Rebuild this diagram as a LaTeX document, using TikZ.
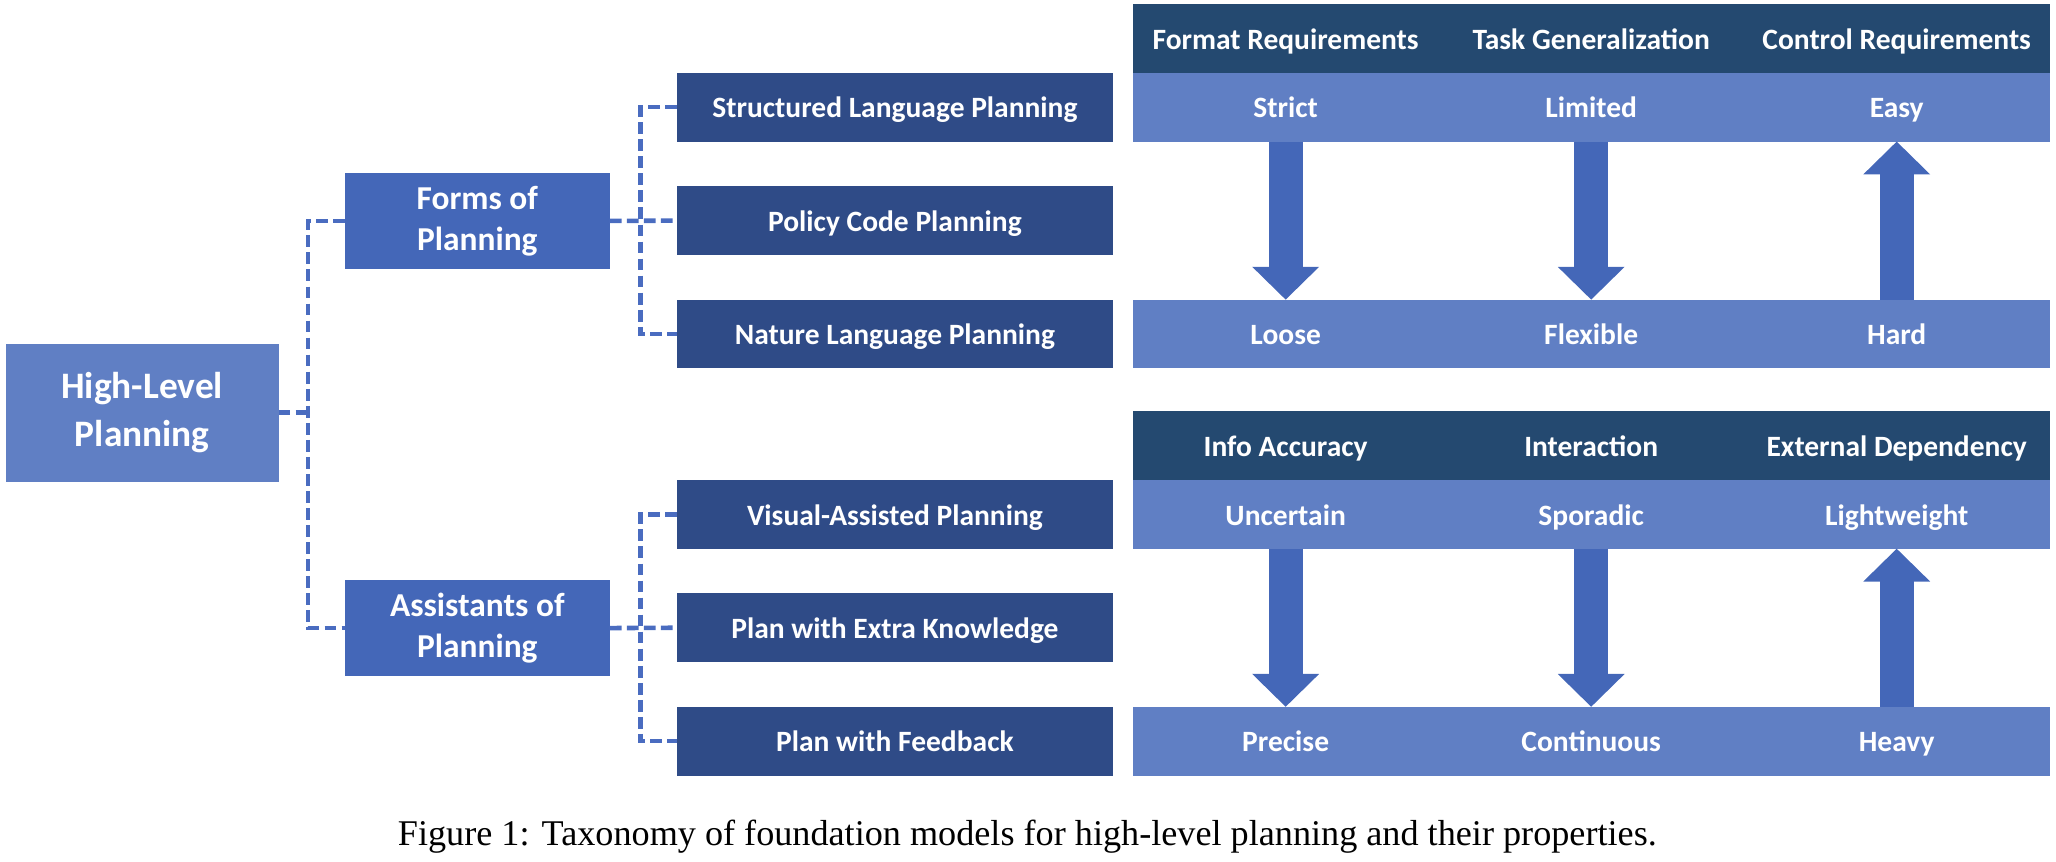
\documentclass[tikz,border=0pt]{standalone}
\usepackage{fontspec}
\setmainfont{Carlito}
\newfontfamily\capfont{Liberation Serif}
\usetikzlibrary{calc}
\definecolor{lightb}{RGB}{96,127,196}
\definecolor{midb}{RGB}{68,103,184}
\definecolor{darkb}{RGB}{47,75,135}
\definecolor{headb}{RGB}{36,73,112}
\definecolor{connc}{RGB}{74,108,192}
\definecolor{arrc}{RGB}{68,103,184}
\newcommand\ArrDown[2]{%
  \draw[arrc, line width=26pt] (#1.south) -- ($(#2.north)+(0,-24)$);
  \fill[arrc] ($(#2.north)+(-25.5,-25)$) -- (#2.north) -- ($(#2.north)+(25.5,-25)$) -- cycle;}
\newcommand\ArrUp[2]{%
  \draw[arrc, line width=26pt] (#1.north) -- ($(#2.south)+(0,24)$);
  \fill[arrc] ($(#2.south)+(-25.5,25)$) -- (#2.south) -- ($(#2.south)+(25.5,25)$) -- cycle;}
\begin{document}
\begin{tikzpicture}[x=1pt,y=-1pt,
  base/.style={inner sep=0pt, outer sep=0pt, text=white, align=center,
    font=\bfseries\fontsize{22.5}{27}\selectfont},
  oneline/.style={text height=17pt, text depth=0.6pt},
  leaf/.style={base, oneline, fill=darkb, minimum width=333pt, minimum height=52.5pt},
  mid/.style={base, fill=midb, minimum width=202pt, minimum height=73.5pt,
    font=\bfseries\fontsize{25.5}{31}\selectfont},
  root/.style={base, fill=lightb, minimum width=208pt, minimum height=105.5pt,
    font=\bfseries\fontsize{28.5}{37}\selectfont},
  headcell/.style={base, oneline, fill=headb, minimum width=233.4pt, minimum height=52.5pt},
  valcell/.style={base, oneline, fill=lightb, minimum width=233.4pt, minimum height=52.5pt},
  conn/.style={draw=connc, line width=3.5pt, dash pattern=on 9pt off 4pt},
]
\useasboundingbox (0,0) rectangle (1568,657.4);

% tree
\node[root] (hl) at (108.5,314.75) {High-Level\\Planning};
\node[mid] (forms) at (364,168.5) {Forms of\\Planning};
\node[mid] (assist) at (364,479) {Assistants of\\Planning};

\node[leaf] (s1) at (682.5,81.75) {Structured Language Planning};
\node[leaf] (s2) at (682.5,168.25) {Policy Code Planning};
\node[leaf] (s3) at (682.5,254.75) {Nature Language Planning};
\node[leaf] (a1) at (682.5,392.25) {Visual-Assisted Planning};
\node[leaf] (a2) at (682.5,478.75) {Plan with Extra Knowledge};
\node[leaf] (a3) at (682.5,565.25) {Plan with Feedback};

\coordinate (j1) at (235,0);
\coordinate (j2) at (488.5,0);

\draw[conn] (hl.east) -- (hl.east -| j1);
\draw[conn] (forms.west) -| (j1 |- hl.east) |- (assist.west);
\draw[conn] (forms.east) -- (s2.west);
\draw[conn] (s1.west) -| (j2 |- forms.east) |- (s3.west);
\draw[conn] (assist.east) -- (a2.west);
\draw[conn] (a1.west) -| (j2 |- assist.east) |- (a3.west);

% table 1
\node[headcell] (h11) at (980.5,29.25) {Format Requirements};
\node[headcell] (h12) at (1213.5,29.25) {Task Generalization};
\node[headcell] (h13) at (1446.5,29.25) {Control Requirements};
\node[valcell] (t11) at (980.5,81.75) {Strict};
\node[valcell] (t12) at (1213.5,81.75) {Limited};
\node[valcell] (t13) at (1446.5,81.75) {Easy};
\node[valcell] (b11) at (980.5,254.75) {Loose};
\node[valcell] (b12) at (1213.5,254.75) {Flexible};
\node[valcell] (b13) at (1446.5,254.75) {Hard};
\ArrDown{t11}{b11}
\ArrDown{t12}{b12}
\ArrUp{b13}{t13}

% table 2
\node[headcell] (h21) at (980.5,339.75) {Info Accuracy};
\node[headcell] (h22) at (1213.5,339.75) {Interaction};
\node[headcell] (h23) at (1446.5,339.75) {External Dependency};
\node[valcell] (t21) at (980.5,392.25) {Uncertain};
\node[valcell] (t22) at (1213.5,392.25) {Sporadic};
\node[valcell] (t23) at (1446.5,392.25) {Lightweight};
\node[valcell] (b21) at (980.5,565.25) {Precise};
\node[valcell] (b22) at (1213.5,565.25) {Continuous};
\node[valcell] (b23) at (1446.5,565.25) {Heavy};
\ArrDown{t21}{b21}
\ArrDown{t22}{b22}
\ArrUp{b23}{t23}

% caption
\node[anchor=base, inner sep=0pt, font=\capfont\fontsize{27.6}{32}\selectfont] (cap) at (783.5,645)
  {Figure 1: Taxonomy of foundation models for high-level planning and their properties.};
\end{tikzpicture}
\end{document}
